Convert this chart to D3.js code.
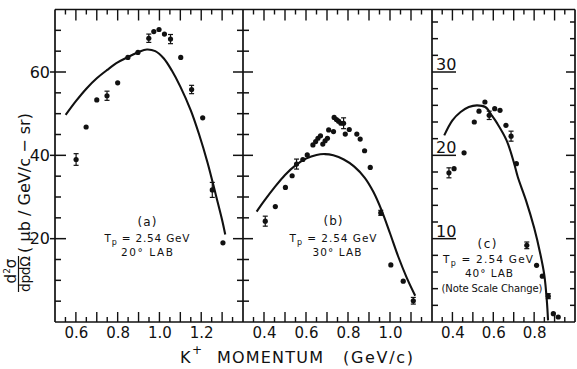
<!DOCTYPE html>
<html><head><meta charset="utf-8">
<script src="https://cdn.jsdelivr.net/npm/d3@7"></script>
<style>
body{margin:0;background:#fff;}
svg{display:block;}
text{font-family:"DejaVu Sans",sans-serif;fill:#111;}
</style>
</head><body>
<svg id="c" width="577" height="369"></svg>
<script>
// ---------- data ----------
// Panel (a) 20° LAB
const aMom = [0.601,0.649,0.700,0.749,0.800,0.849,0.897,0.949,0.973,0.998,1.024,1.053,1.102,1.154,1.207,1.253,1.304];
const aVal = [39.0,46.8,53.3,54.3,57.4,63.5,64.7,68.1,69.7,70.2,69.1,67.9,63.5,55.8,49.0,31.7,19.0];
const aErr = [1.4,0,0,1.1,0,0,0,1.0,0,0,0,1.1,0,1.0,0,1.8,0];
const aCurveMom = [0.551,0.60,0.65,0.70,0.75,0.80,0.85,0.90,0.94,0.98,1.02,1.06,1.10,1.15,1.19,1.23,1.27,1.30,1.315];
const aCurveVal = [49.7,53.0,56.0,58.5,60.5,62.3,63.6,64.8,65.4,65.0,63.3,60.3,56.5,50.8,45.0,38.3,30.5,24.5,21.0];
// Panel (b) 30° LAB
const bMom = [0.406,0.454,0.502,0.534,0.555,0.585,0.606,0.633,0.646,0.657,0.669,0.680,0.691,0.702,0.708,0.731,0.734,0.745,0.755,0.766,0.779,0.787,0.806,0.842,0.858,0.879,0.906,0.956,1.004,1.063,1.111];
const bVal = [24.2,27.7,32.3,35.1,37.9,39.0,40.1,42.5,43.3,44.1,44.7,42.7,43.5,44.1,46.1,45.7,49.1,48.6,48.2,47.7,47.7,45.1,46.2,45.1,43.9,41.1,37.1,26.2,13.7,9.8,5.1];
const bErr = [1.2,0,0,0,1.2,0,0,0,0,0,0,0,0,0,0,0,0,0,0,0,1.3,0,0,0,0,0,0,0.6,0,0,0.8];
const bCurveMom = [0.365,0.40,0.45,0.50,0.55,0.60,0.65,0.69,0.73,0.78,0.83,0.88,0.92,0.96,1.00,1.04,1.08,1.12];
const bCurveVal = [26.5,29.0,32.3,35.3,37.6,39.2,40.1,40.3,40.0,39.0,37.3,34.6,31.3,26.8,21.3,15.6,10.6,6.3];
// Panel (c) 40° LAB (scale halved)
const cMom = [0.383,0.408,0.457,0.507,0.530,0.559,0.580,0.607,0.633,0.662,0.687,0.713,0.764,0.812,0.840,0.869,0.894,0.918];
const cVal = [17.9,18.4,20.3,24.0,25.3,26.4,24.8,25.6,25.4,23.6,22.3,19.0,9.2,6.8,5.5,3.1,1.0,0.6];
const cErr = [0.6,0,0,0,0,0,0.5,0,0,0,0.6,0,0.4,0,0,0.3,0,0];
const cCurveMom = [0.36,0.40,0.44,0.48,0.52,0.561,0.592,0.62,0.665,0.70,0.72,0.76,0.80,0.83,0.85,0.862,0.868];
const cCurveVal = [22.4,24.2,25.2,25.8,26.0,25.8,24.8,23.8,21.8,19.2,17.4,14.6,11.3,8.2,5.6,2.6,0.2];
// tick labels
const abYLabels = [20,40,60];
const cYLabels = [10,20,30];
const aXLabels = [0.6,0.8,1.0,1.2];
const bXLabels = [0.4,0.6,0.8,1.0];
const cXLabels = [0.4,0.6,0.8];

// ---------- layout ----------
const svg = d3.select("#c");
const T = 9.5, B = 322;
const xa = d3.scaleLinear([0.5,1.4],[55,243]);
const xb = d3.scaleLinear([0.3,1.2],[243,432]);
const xc = d3.scaleLinear([0.3,1.0],[432,575]);
const yab = d3.scaleLinear([0,75],[B,T]);
const yc = d3.scaleLinear([0,37.5],[B,T]);
const ink = "#111";

// frame
const g = svg.append("g").attr("stroke",ink).attr("fill","none");
g.append("line").attr("x1",55).attr("x2",575).attr("y1",T).attr("y2",T).attr("stroke-width",1.7);
g.append("line").attr("x1",55).attr("x2",575).attr("y1",B).attr("y2",B).attr("stroke-width",1.7);
[55,243,432,575].forEach(x=>g.append("line").attr("x1",x).attr("x2",x).attr("y1",T).attr("y2",B).attr("stroke-width",1.7));

function rng(lo,hi,step){const out=[];for(let v=lo+step;v<hi-1e-9;v+=step)out.push(Math.round(v*1000)/1000);return out;}
function isMul(v,m){return Math.abs(v/m-Math.round(v/m))<1e-6;}

// x ticks (bottom up, top down)
function xTicks(x,lo,hi,labels){
  const vals = rng(lo,hi,0.05);
  const tg = svg.append("g").attr("stroke",ink).attr("stroke-width",1.4);
  vals.forEach(v=>{
    const big = isMul(v,0.1);
    tg.append("line").attr("x1",x(v)).attr("x2",x(v)).attr("y1",B).attr("y2",B-(big?10:5));
    tg.append("line").attr("x1",x(v)).attr("x2",x(v)).attr("y1",T).attr("y2",T+(big?11:5));
  });
  const ax = d3.axisBottom(x).tickValues(labels).tickSize(0).tickPadding(5).tickFormat(d3.format(".1f"));
  const ga = svg.append("g").attr("transform",`translate(0,${B})`).call(ax);
  ga.select(".domain").remove();
  ga.selectAll("text").attr("font-size",15).attr("font-family","DejaVu Sans").attr("fill",ink);
}
xTicks(xa,0.5,1.4,aXLabels);
xTicks(xb,0.3,1.2,bXLabels);
xTicks(xc,0.3,1.0,cXLabels);

// y ticks
const yg = svg.append("g").attr("stroke",ink).attr("stroke-width",1.5);
rng(0,75,5).forEach(v=>{
  const big = abYLabels.includes(v);
  yg.append("line").attr("x1",big?50:55).attr("x2",big?66:61).attr("y1",yab(v)).attr("y2",yab(v));
  yg.append("line").attr("x1",243-(big?10:6)).attr("x2",243+(big?10:6)).attr("y1",yab(v)).attr("y2",yab(v));
});
rng(0,37.5,2).forEach(v=>{
  const big = cYLabels.includes(v);
  yg.append("line").attr("x1",432).attr("x2",432+(big?24:6)).attr("y1",yc(v)).attr("y2",yc(v));
  yg.append("line").attr("x1",575-(big?9:5)).attr("x2",575).attr("y1",yc(v)).attr("y2",yc(v));
});
svg.append("g").selectAll("text").data(abYLabels).join("text")
  .attr("x",50).attr("y",d=>yab(d)).attr("dy","0.36em").attr("text-anchor","end")
  .attr("font-size",16).text(d=>d);
svg.append("g").selectAll("text").data(cYLabels).join("text")
  .attr("x",436).attr("y",d=>yc(d)-2).attr("font-size",16).text(d=>d);

// data marks
function panel(x,y,mom,val,err,cm,cv){
  const pg = svg.append("g");
  pg.append("path").datum(cm.map((m,i)=>[m,cv[i]]))
    .attr("d",d3.line().x(d=>x(d[0])).y(d=>y(d[1])).curve(d3.curveCatmullRom))
    .attr("fill","none").attr("stroke",ink).attr("stroke-width",2.1);
  const pts = mom.map((m,i)=>({m,v:val[i],e:err[i]}));
  const eb = pg.append("g").attr("stroke",ink).attr("stroke-width",1.2);
  pts.filter(d=>d.e>0).forEach(d=>{
    eb.append("line").attr("x1",x(d.m)).attr("x2",x(d.m)).attr("y1",y(d.v-d.e)).attr("y2",y(d.v+d.e));
    eb.append("line").attr("x1",x(d.m)-2.5).attr("x2",x(d.m)+2.5).attr("y1",y(d.v-d.e)).attr("y2",y(d.v-d.e));
    eb.append("line").attr("x1",x(d.m)-2.5).attr("x2",x(d.m)+2.5).attr("y1",y(d.v+d.e)).attr("y2",y(d.v+d.e));
  });
  pg.append("g").selectAll("circle").data(pts).join("circle")
    .attr("cx",d=>x(d.m)).attr("cy",d=>y(d.v)).attr("r",2.6).attr("fill",ink);
}
panel(xa,yab,aMom,aVal,aErr,aCurveMom,aCurveVal);
panel(xb,yab,bMom,bVal,bErr,bCurveMom,bCurveVal);
panel(xc,yc,cMom,cVal,cErr,cCurveMom,cCurveVal);

// annotations
function annot(cx,lines){
  lines.forEach(l=>{
    const t = svg.append("text").attr("x",l.x||cx).attr("y",l.y).attr("text-anchor","middle")
      .attr("font-size",l.fs||10.5);
    if(l.tp){
      t.append("tspan").text("T");
      t.append("tspan").attr("font-size",8).attr("dy",3).text("p");
      t.append("tspan").attr("dy",-3).text(" = 2.54 GeV");
    } else t.text(l.s);
    if(l.w) t.attr("textLength",l.w).attr("lengthAdjust","spacing");
  });
}
annot(147,[{s:"(a)",y:226,fs:12,w:19},{tp:1,y:242,w:85},{s:"20° LAB",y:256,w:52}]);
annot(333,[{s:"(b)",y:225,fs:12,w:19},{tp:1,y:242,w:87},{s:"30° LAB",y:256,x:337,w:49}]);
annot(488,[{s:"(c)",y:248,fs:12,x:487,w:19},{tp:1,y:263,w:90},{s:"40° LAB",y:277,x:489,w:48},{s:"(Note Scale Change)",y:292,x:492,w:101,fs:10}]);

// x title
svg.append("text").attr("x",180).attr("y",363).attr("font-size",16).text("K");
svg.append("text").attr("x",192).attr("y",354).attr("font-size",12).text("+");
svg.append("text").attr("x",217).attr("y",363).attr("font-size",16).attr("textLength",106).attr("lengthAdjust","spacing").text("MOMENTUM");
svg.append("text").attr("x",343).attr("y",363).attr("font-size",16).attr("textLength",70).attr("lengthAdjust","spacing").text("(GeV/c)");

// y title
svg.append("text").attr("transform","translate(16,271) rotate(-90)").attr("text-anchor","middle").attr("font-size",15)
  .call(t=>{t.append("tspan").text("d");t.append("tspan").attr("font-size",9).attr("dy",-6).text("2");t.append("tspan").attr("dy",6).text("σ");});
svg.append("line").attr("x1",18.5).attr("x2",18.5).attr("y1",256).attr("y2",292).attr("stroke",ink).attr("stroke-width",1.2);
svg.append("text").attr("transform","translate(30,274) rotate(-90)").attr("text-anchor","middle").attr("font-size",14)
  .attr("textLength",36).attr("lengthAdjust","spacing").text("dpdΩ");
svg.append("text").attr("transform","translate(30,183) rotate(-90)").attr("text-anchor","middle").attr("font-size",16)
  .attr("textLength",140).attr("lengthAdjust","spacing").text("( μb / GeV/c − sr)");
</script>
</body></html>
